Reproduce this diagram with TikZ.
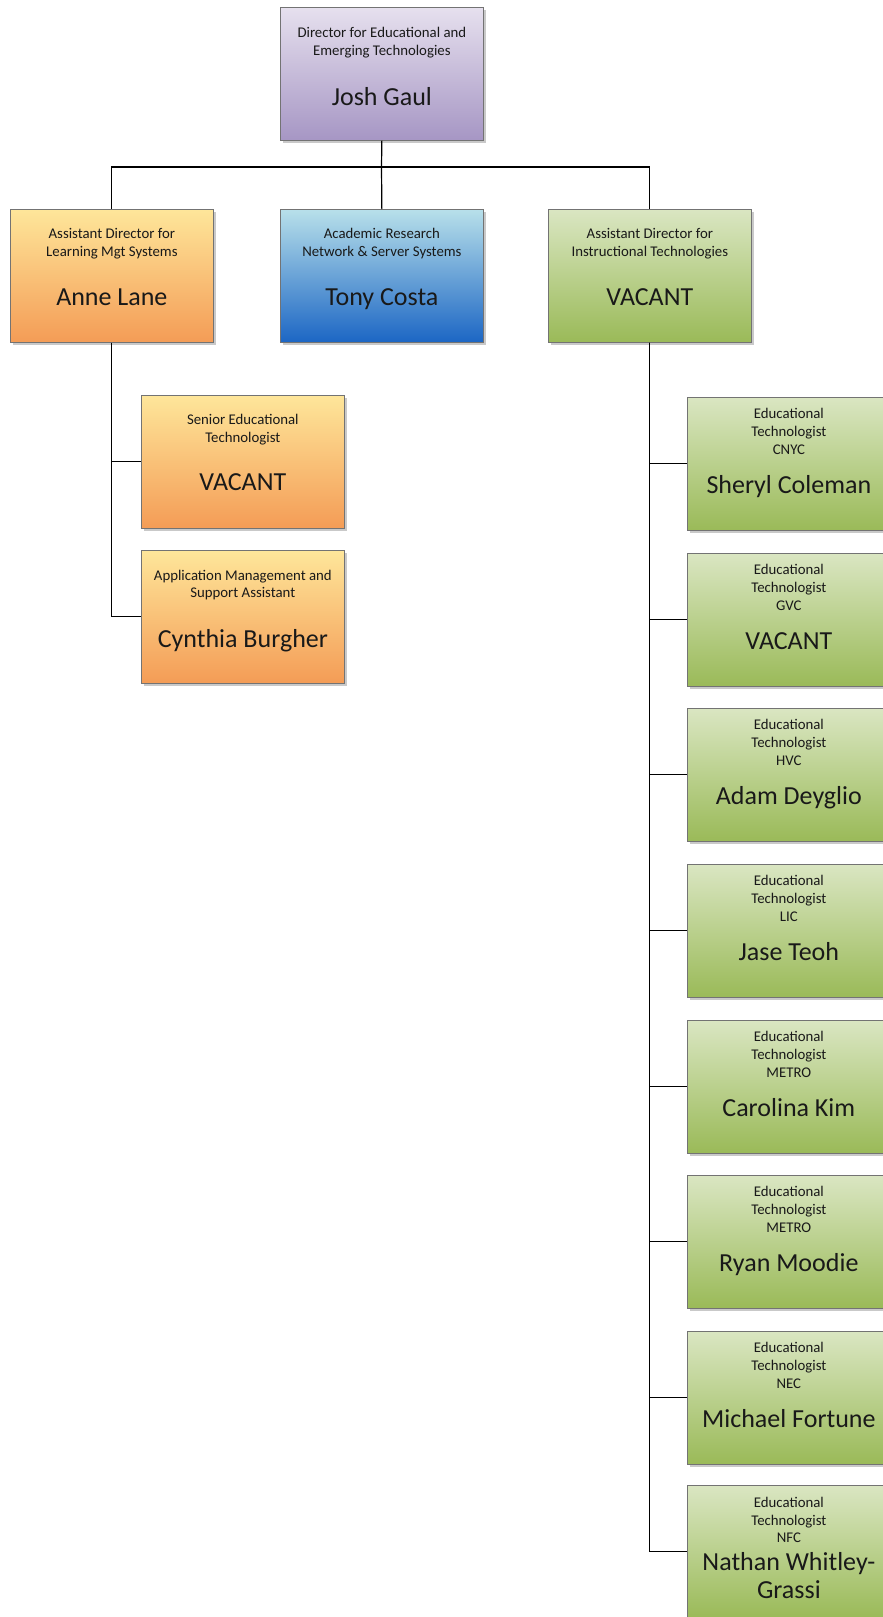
\documentclass[tikz,border=0pt]{standalone}
\usepackage{fontspec}
\setmainfont{Carlito}
\usetikzlibrary{shadows}
\definecolor{purT}{RGB}{230,224,238}
\definecolor{purB}{RGB}{166,150,196}
\definecolor{orgT}{RGB}{254,230,154}
\definecolor{orgB}{RGB}{244,156,86}
\definecolor{bluT}{RGB}{184,224,234}
\definecolor{bluB}{RGB}{28,102,196}
\definecolor{grnT}{RGB}{218,230,194}
\definecolor{grnB}{RGB}{154,186,88}
\tikzset{
  orgbox/.style={draw=black!55, line width=0.7pt, minimum width=203pt, minimum height=133pt,
    inner sep=0pt, anchor=north west, drop shadow={shadow xshift=3pt, shadow yshift=-3pt, opacity=0.35, fill=black!60}},
  purbox/.style={orgbox, top color=purT, bottom color=purB},
  orabox/.style={orgbox, top color=orgT, bottom color=orgB},
  blubox/.style={orgbox, top color=bluT, bottom color=bluB},
  grnbox/.style={orgbox, top color=grnT, bottom color=grnB},
  ttl/.style={font=\fontsize{14.8}{17}\selectfont, anchor=base, inner sep=0pt, text=black!90},
  nme/.style={font=\fontsize{26}{30}\selectfont, anchor=base, inner sep=0pt, text=black!90},
  conn/.style={draw=black, line width=1.2pt},
}
\begin{document}
\begin{tikzpicture}[x=1pt,y=-1pt]
\useasboundingbox (0,0) rectangle (883,1617);
\clip (0,0) rectangle (883,1617);
\fill[white] (0,0) rectangle (883,1617);

% Director
\node[purbox] (dir) at (280,7) {};
\node[ttl] (dir-a) at ([yshift=-30pt]dir.north) {Director for Educational and};
\node[ttl] (dir-b) at ([yshift=-48pt]dir.north) {Emerging Technologies};
\node[nme] (dir-n) at ([yshift=-98pt]dir.north) {Josh Gaul};

% Level 2
\node[orabox] (anne) at (10,209) {};
\node[ttl] (anne-a) at ([yshift=-29pt]anne.north) {Assistant Director for};
\node[ttl] (anne-b) at ([yshift=-47pt]anne.north) {Learning Mgt Systems};
\node[nme] (anne-n) at ([yshift=-96pt]anne.north) {Anne Lane};

\node[blubox] (tony) at (280,209) {};
\node[ttl] (tony-a) at ([yshift=-29pt]tony.north) {Academic Research};
\node[ttl] (tony-b) at ([yshift=-47pt]tony.north) {Network \& Server Systems};
\node[nme] (tony-n) at ([yshift=-96pt]tony.north) {Tony Costa};

\node[grnbox] (ad) at (548,209) {};
\node[ttl] (ad-a) at ([yshift=-29pt]ad.north) {Assistant Director for};
\node[ttl] (ad-b) at ([yshift=-47pt]ad.north) {Instructional Technologies};
\node[nme] (ad-n) at ([yshift=-96pt]ad.north) {VACANT};

% Left children
\node[orabox] (sen) at (141,395) {};
\node[ttl] (sen-a) at ([yshift=-29pt]sen.north) {Senior Educational};
\node[ttl] (sen-b) at ([yshift=-47pt]sen.north) {Technologist};
\node[nme] (sen-n) at ([yshift=-95pt]sen.north) {VACANT};

\node[orabox] (cyn) at (141,550) {};
\node[ttl] (cyn-a) at ([yshift=-30pt]cyn.north) {Application Management and};
\node[ttl] (cyn-b) at ([yshift=-47pt]cyn.north) {Support Assistant};
\node[nme] (cyn-n) at ([yshift=-97pt]cyn.north) {Cynthia Burgher};

% Right children
\node[grnbox] (e1) at (687,397) {};
\node[ttl] (e1-a) at ([yshift=-21pt]e1.north) {Educational};
\node[ttl] (e1-b) at ([yshift=-39pt]e1.north) {Technologist};
\node[ttl] (e1-c) at ([yshift=-57pt]e1.north) {CNYC};
\node[nme] (e1-n) at ([yshift=-96pt]e1.north) {Sheryl Coleman};

\node[grnbox] (e2) at (687,553) {};
\node[ttl] (e2-a) at ([yshift=-21pt]e2.north) {Educational};
\node[ttl] (e2-b) at ([yshift=-39pt]e2.north) {Technologist};
\node[ttl] (e2-c) at ([yshift=-57pt]e2.north) {GVC};
\node[nme] (e2-n) at ([yshift=-96pt]e2.north) {VACANT};

\node[grnbox] (e3) at (687,708) {};
\node[ttl] (e3-a) at ([yshift=-21pt]e3.north) {Educational};
\node[ttl] (e3-b) at ([yshift=-39pt]e3.north) {Technologist};
\node[ttl] (e3-c) at ([yshift=-57pt]e3.north) {HVC};
\node[nme] (e3-n) at ([yshift=-96pt]e3.north) {Adam Deyglio};

\node[grnbox] (e4) at (687,864) {};
\node[ttl] (e4-a) at ([yshift=-21pt]e4.north) {Educational};
\node[ttl] (e4-b) at ([yshift=-39pt]e4.north) {Technologist};
\node[ttl] (e4-c) at ([yshift=-57pt]e4.north) {LIC};
\node[nme] (e4-n) at ([yshift=-96pt]e4.north) {Jase Teoh};

\node[grnbox] (e5) at (687,1020) {};
\node[ttl] (e5-a) at ([yshift=-21pt]e5.north) {Educational};
\node[ttl] (e5-b) at ([yshift=-39pt]e5.north) {Technologist};
\node[ttl] (e5-c) at ([yshift=-57pt]e5.north) {METRO};
\node[nme] (e5-n) at ([yshift=-96pt]e5.north) {Carolina Kim};

\node[grnbox] (e6) at (687,1175) {};
\node[ttl] (e6-a) at ([yshift=-21pt]e6.north) {Educational};
\node[ttl] (e6-b) at ([yshift=-39pt]e6.north) {Technologist};
\node[ttl] (e6-c) at ([yshift=-57pt]e6.north) {METRO};
\node[nme] (e6-n) at ([yshift=-96pt]e6.north) {Ryan Moodie};

\node[grnbox] (e7) at (687,1331) {};
\node[ttl] (e7-a) at ([yshift=-21pt]e7.north) {Educational};
\node[ttl] (e7-b) at ([yshift=-39pt]e7.north) {Technologist};
\node[ttl] (e7-c) at ([yshift=-57pt]e7.north) {NEC};
\node[nme] (e7-n) at ([yshift=-96pt]e7.north) {Michael Fortune};

\node[grnbox] (e8) at (687,1485) {};
\node[ttl] (e8-a) at ([yshift=-22pt]e8.north) {Educational};
\node[ttl] (e8-b) at ([yshift=-40pt]e8.north) {Technologist};
\node[ttl] (e8-c) at ([yshift=-57pt]e8.north) {NFC};
\node[nme] (e8-n) at ([yshift=-85pt]e8.north) {Nathan Whitley-};
\node[nme] (e8-m) at ([yshift=-113pt]e8.north) {Grassi};

% Connectors
\coordinate (j1) at (381.5,167);
\draw[conn] (dir.south) -- (j1);
\draw[conn] (j1) -- (tony.north);
\draw[conn] (anne.north) |- (j1);
\draw[conn] (j1) -| (ad.north);

\draw[conn] (anne.south) |- (sen.west);
\draw[conn] (anne.south) |- (cyn.west);

\foreach \i in {1,...,8} {
  \draw[conn] (ad.south) |- (e\i.west);
}
\end{tikzpicture}
\end{document}
